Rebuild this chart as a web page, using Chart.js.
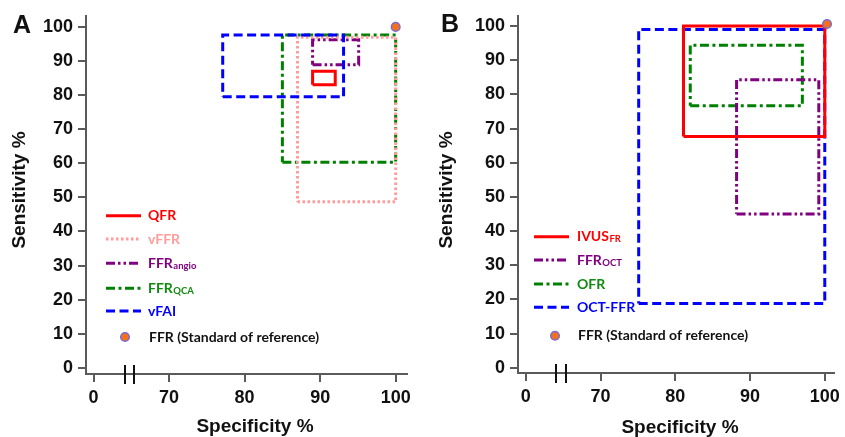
<!DOCTYPE html>
<html><head><meta charset="utf-8">
<script src="https://cdn.jsdelivr.net/npm/chart.js@4.4.0/dist/chart.umd.min.js"></script>
<style>
html,body{margin:0;padding:0;background:#fff;}
#wrap{position:relative;width:845px;height:437px;overflow:hidden;background:#fff;}
#ca{position:absolute;left:0;top:0;}
#cb{position:absolute;left:420px;top:0;}
</style></head><body>
<div id="wrap">
<canvas id="ca" width="420" height="437"></canvas>
<canvas id="cb" width="425" height="437"></canvas>
</div>
<script>
// ---------- DATA ----------
// Tick labels (the "0" specificity tick sits left of an axis break)
const xTickValues = [60, 70, 80, 90, 100];
const xTickLabels = ['0', '70', '80', '90', '100'];
const yTickValues = [0, 10, 20, 30, 40, 50, 60, 70, 80, 90, 100];
const breakValues = [64.1, 65.4];

// Panel A
const namesA     = ['QFR', 'vFFR', 'FFR', 'FFR', 'vFAI'];
const subsA      = ['', '', 'angio', 'QCA', ''];
const specLowA   = [89.0, 87.0, 89.0, 85.0, 77.1];
const specHighA  = [92.0, 100.0, 95.1, 100.0, 93.1];
const sensLowA   = [83.0, 48.7, 88.9, 60.3, 79.5];
const sensHighA  = [87.0, 97.0, 96.2, 97.6, 97.6];

// Panel B
const namesB     = ['IVUS', 'FFR', 'OFR', 'OCT-FFR'];
const subsB      = ['FR', 'OCT', '', ''];
const specLowB   = [81.1, 88.2, 82.0, 75.1];
const specHighB  = [100.0, 99.2, 97.0, 100.0];
const sensLowB   = [67.7, 45.0, 76.7, 18.8];
const sensHighB  = [100.0, 84.3, 94.4, 99.0];

// Reference standard (FFR)
const refLabel = 'FFR (Standard of reference)';
const refSpecA = [100.0], refSensA = [100.0];
const refSpecB = [100.3], refSensB = [100.6];

// ---------- STYLES ----------
const stylesA = [
  {color:'#ff0000', text:'#ff0000', dash:[]},
  {color:'#ff9c9c', text:'#ff9c9c', dash:[2.5,2.5]},
  {color:'#800080', text:'#800080', dash:[9,3,2.5,3,2.5,3]},
  {color:'#008000', text:'#108a10', dash:[9,3.5,3,3.5]},
  {color:'#0000ff', text:'#0000ff', dash:[9,4.5]}
];
const stylesB = [
  {color:'#ff0000', text:'#ff0000', dash:[]},
  {color:'#800080', text:'#800080', dash:[9,3,2.5,3,2.5,3]},
  {color:'#008000', text:'#108a10', dash:[9,3.5,3,3.5]},
  {color:'#0000ff', text:'#0000ff', dash:[9,4.5]}
];
const drawOrderA = [0, 2, 4, 3, 1]; // lower = on top
const drawOrderB = [0, 1, 2, 3];

const FONT = '"Liberation Sans", Arial, sans-serif';
const LFONT = 'Lato, "Open Sans", sans-serif';

function rectPts(x0, x1, y0, y1){
  return [{x:x0,y:y0},{x:x1,y:y0},{x:x1,y:y1},{x:x0,y:y1},{x:x0,y:y0}];
}

function buildDatasets(names, subs, sl, sh, nl, nh, styles, orders, rsx, rsy){
  const ds = [];
  ds.push({
    label: refLabel,
    data: rsx.map((v,i)=>({x:v, y:rsy[i]})),
    showLine:false, pointRadius:4.3, pointHoverRadius:4.3,
    backgroundColor:'#f2701e', borderColor:'#7a6cd0', borderWidth:1.5, order:-1
  });
  names.forEach((n,i)=>{
    ds.push({
      label: n + subs[i],
      data: rectPts(sl[i], sh[i], nl[i], nh[i]),
      showLine:true, fill:false, tension:0,
      borderColor: styles[i].color, borderWidth:3,
      borderDash: styles[i].dash, borderCapStyle:'butt', borderJoinStyle:'miter',
      pointRadius:0, pointHoverRadius:0, order: orders[i]
    });
  });
  return ds;
}

function overlayPlugin(o){
  return {
    id:'overlay',
    afterDraw(chart){
      const ctx = chart.ctx, xs = chart.scales.x, ys = chart.scales.y;
      const ca = chart.chartArea;
      ctx.save();
      // axis break marks
      ctx.strokeStyle = '#111'; ctx.lineWidth = 2;
      breakValues.forEach(v=>{
        const px = Math.round(xs.getPixelForValue(v));
        ctx.beginPath(); ctx.moveTo(px, ca.bottom - 9); ctx.lineTo(px, ca.bottom + 10); ctx.stroke();
      });
      // panel letter
      ctx.fillStyle = '#111';
      ctx.font = 'bold 25px ' + FONT;
      ctx.textAlign = 'center'; ctx.textBaseline = 'middle';
      ctx.fillText(o.letter, o.letterX, o.letterY);
      // axis titles
      ctx.font = 'bold 19px ' + FONT;
      ctx.fillText('Specificity %', o.xTitleX, o.xTitleY);
      ctx.save();
      ctx.translate(o.yTitleX, o.yTitleY); ctx.rotate(-Math.PI/2);
      ctx.fillText('Sensitivity %', 0, 0);
      ctx.restore();
      // legend
      ctx.textAlign = 'left'; ctx.textBaseline = 'middle';
      o.names.forEach((n,i)=>{
        const y = o.legRows[i];
        ctx.strokeStyle = o.styles[i].color; ctx.lineWidth = 3;
        ctx.setLineDash(o.styles[i].dash);
        ctx.beginPath(); ctx.moveTo(o.legX0, y); ctx.lineTo(o.legX1, y); ctx.stroke();
        ctx.setLineDash([]);
        ctx.fillStyle = o.styles[i].text;
        ctx.font = 'bold 14px ' + LFONT;
        ctx.fillText(n, o.legTx, y);
        if (o.subs[i]) {
          const w = ctx.measureText(n).width;
          ctx.font = 'bold 9.5px ' + LFONT;
          ctx.fillText(o.subs[i], o.legTx + w + 0.5, y + 2.5);
        }
      });
      // reference point legend
      ctx.beginPath();
      ctx.arc(o.refX, o.refY, 4.3, 0, Math.PI*2);
      ctx.fillStyle = '#f2701e'; ctx.fill();
      ctx.lineWidth = 1.5; ctx.strokeStyle = '#7a6cd0'; ctx.stroke();
      ctx.fillStyle = '#111';
      ctx.font = 'bold 14px ' + LFONT;
      ctx.fillText(refLabel, o.refTx, o.refY);
      ctx.restore();
    }
  };
}

function makeChart(id, datasets, sc, pad, plug){
  return new Chart(document.getElementById(id), {
    type:'scatter',
    data:{datasets},
    options:{
      responsive:false, animation:false,
      layout:{padding:{left:0, right:pad.right, top:pad.top, bottom:0}},
      plugins:{legend:{display:false}, tooltip:{enabled:false}},
      scales:{
        x:{
          type:'linear', min:sc.xmin, max:sc.xmax,
          afterBuildTicks: s => { s.ticks = xTickValues.map(v=>({value:v})); },
          afterFit: s => { s.height = sc.xh; },
          grid:{display:true, drawOnChartArea:false, drawTicks:true, tickLength:8, color:'#5a5a5a', lineWidth:2},
          border:{display:true, color:'#5a5a5a', width:2},
          ticks:{color:'#111', padding:5, autoSkip:false, maxRotation:0,
            font:{family:FONT, weight:'bold', size:18},
            callback:(v,i)=>xTickLabels[i]}
        },
        y:{
          type:'linear', min:sc.ymin, max:sc.ymax,
          afterBuildTicks: s => { s.ticks = yTickValues.map(v=>({value:v})); },
          afterFit: s => { s.width = sc.yw; },
          grid:{display:true, drawOnChartArea:false, drawTicks:true, tickLength:8, color:'#5a5a5a', lineWidth:2},
          border:{display:true, color:'#5a5a5a', width:2},
          ticks:{color:'#111', padding:5, autoSkip:false,
            font:{family:FONT, weight:'bold', size:18},
            callback:(v)=>String(v)}
        }
      }
    },
    plugins:[plug]
  });
}

makeChart('ca',
  buildDatasets(namesA, subsA, specLowA, specHighA, sensLowA, sensHighA, stylesA, drawOrderA, refSpecA, refSensA),
  {xmin:59.0, xmax:101.5, ymin:-1.8, ymax:103.2, xh:63, yw:86},
  {right:13, top:16},
  overlayPlugin({letter:'A', letterX:22, letterY:26, xTitleX:255, xTitleY:427, yTitleX:20, yTitleY:190,
    names:namesA, subs:subsA, styles:stylesA, legRows:[215.7,239,263.3,288.3,311], legX0:106, legX1:141, legTx:148,
    refX:125, refY:337, refTx:149})
);

makeChart('cb',
  buildDatasets(namesB, subsB, specLowB, specHighB, sensLowB, sensHighB, stylesB, drawOrderB, refSpecB, refSensB),
  {xmin:58.95, xmax:101.28, ymin:-1.55, ymax:103.0, xh:64, yw:98},
  {right:7, top:15},
  overlayPlugin({letter:'B', letterX:30, letterY:25, xTitleX:260, xTitleY:428, yTitleX:27, yTitleY:190,
    names:namesB, subs:subsB, styles:stylesB, legRows:[236.7,260,284,307.3], legX0:114, legX1:149, legTx:157,
    refX:135, refY:335.7, refTx:158})
);
</script>
</body></html>
